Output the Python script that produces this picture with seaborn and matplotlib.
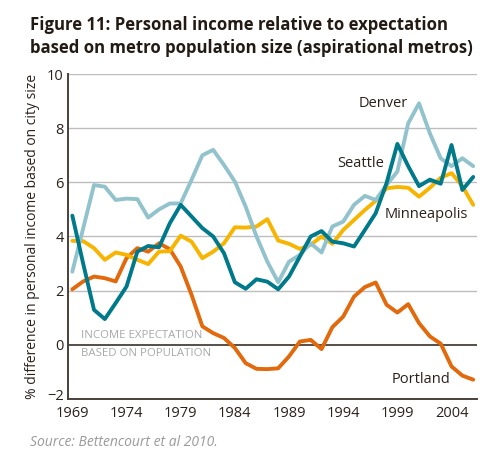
import numpy as np
import pandas as pd
import matplotlib
matplotlib.use("Agg")
import matplotlib.pyplot as plt
import matplotlib.transforms as mtransforms
import seaborn as sns

years = list(range(1969, 2007))
denver = [2.7, 4.3, 5.9, 5.84, 5.35, 5.4, 5.38, 4.7, 5.0, 5.22, 5.22, 6.09, 7.0,
          7.2, 6.64, 6.03, 5.1, 4.0, 3.07, 2.31, 3.07, 3.32, 3.75, 3.41, 4.37, 4.55,
          5.17, 5.5, 5.35, 5.9, 6.4, 8.18, 8.92, 7.81, 6.89, 6.6, 6.89, 6.6]
seattle = [4.77, 3.0, 1.29, 0.95, 1.54, 2.15, 3.44, 3.65, 3.6, 4.49, 5.17, 4.74, 4.31,
           4.0, 3.38, 2.31, 2.07, 2.42, 2.33, 2.05, 2.52, 3.26, 4.0, 4.2, 3.81, 3.75,
           3.63, 4.24, 4.86, 5.97, 7.42, 6.6, 5.86, 6.1, 5.95, 7.38, 5.72, 6.2]
minneapolis = [3.84, 3.83, 3.57, 3.14, 3.41, 3.32, 3.14, 2.98, 3.44, 3.46, 4.03, 3.81, 3.2,
               3.44, 3.75, 4.34, 4.33, 4.37, 4.64, 3.85, 3.73, 3.54, 3.69, 4.0, 3.73, 4.24,
               4.61, 4.98, 5.32, 5.78, 5.83, 5.8, 5.47, 5.8, 6.17, 6.34, 5.86, 5.17]
portland = [2.05, 2.34, 2.52, 2.46, 2.34, 3.2, 3.57, 3.44, 3.75, 3.53, 2.89, 1.85, 0.68,
            0.43, 0.25, -0.12, -0.68, -0.89, -0.9, -0.87, -0.43, 0.12, 0.18, -0.16, 0.65, 1.04,
            1.78, 2.13, 2.3, 1.48, 1.19, 1.5, 0.8, 0.31, 0.04, -0.8, -1.14, -1.29]

series_names = ["Portland", "Minneapolis", "Denver", "Seattle"]
series_vals = [portland, minneapolis, denver, seattle]
colors = {"Portland": "#e26a0c", "Minneapolis": "#f7b400",
          "Denver": "#92c3cd", "Seattle": "#00798a"}

df = pd.DataFrame({
    "year": years * len(series_names),
    "value": sum(series_vals, []),
    "metro": sum([[n] * len(years) for n in series_names], []),
})

sns.set_theme(style="white")
plt.rcParams["font.family"] = ["Open Sans", "DejaVu Sans"]

fig = plt.figure(figsize=(5.0, 4.66), dpi=100)
ax = fig.add_axes([0.136, 0.144, 0.818, 0.697])

for y in [2, 4, 6, 8, 10]:
    ax.axhline(y, color="#bdbdbd", lw=1.0, zorder=0)
ax.axhline(0, color="#4a4038", lw=1.3, zorder=1)

sns.lineplot(data=df, x="year", y="value", hue="metro", palette=colors,
             hue_order=series_names, lw=2.8, legend=False, ax=ax, zorder=3)

ax.set_xlim(1968.6, 2006.35)
ax.set_ylim(-2, 10)
ax.set_xticks([1969, 1974, 1979, 1984, 1989, 1994, 1999, 2004])
ax.set_yticks([-2, 0, 2, 4, 6, 8, 10])
ax.tick_params(axis="both", labelsize=10.5, colors="#2b211b", length=0)
ax.tick_params(axis="x", pad=5)
ax.tick_params(axis="y", pad=3)
for s in ["top", "right"]:
    ax.spines[s].set_visible(False)
for s in ["left", "bottom"]:
    ax.spines[s].set_color("#4a4038")
    ax.spines[s].set_linewidth(1.4)
ax.set_xlabel("")
ax.set_ylabel("% difference in personal income based on city size",
              fontsize=10, color="#2b211b", labelpad=5)

# nudge the "-2" label up slightly so it does not collide with "1969"
fig.canvas.draw()
ylabels = ax.get_yticklabels()
offset = mtransforms.ScaledTranslation(0, 3 / 72.0, fig.dpi_scale_trans)
ylabels[0].set_transform(ylabels[0].get_transform() + offset)

tc = "#2b211b"
ax.text(2000.0, 8.9, "Denver", fontsize=10.5, color=tc, ha="right", va="center")
ax.text(1995.6, 6.7, "Seattle", fontsize=10.5, color=tc, ha="center", va="center")
ax.text(2001.7, 4.83, "Minneapolis", fontsize=10.5, color=tc, ha="center", va="center")
ax.text(2003.9, -1.27, "Portland", fontsize=10.5, color=tc, ha="right", va="center")
ax.text(1969.77, 0.34, "INCOME EXPECTATION", fontsize=8.2, color="#a8a8a8", ha="left", va="center")
ax.text(1969.77, -0.33, "BASED ON POPULATION", fontsize=8.2, color="#a8a8a8", ha="left", va="center")

fig.text(0.06, 0.946, "Figure 11: Personal income relative to expectation",
         fontsize=12.1, fontweight="bold", color="#231a14", ha="left", va="center")
fig.text(0.06, 0.898, "based on metro population size (aspirational metros)",
         fontsize=12.1, fontweight="bold", color="#231a14", ha="left", va="center")
fig.text(0.06, 0.05, "Source: Bettencourt et al 2010.", fontsize=10,
         style="italic", color="#9a9a9a", ha="left", va="center")

fig.savefig("out.png", dpi=100)
